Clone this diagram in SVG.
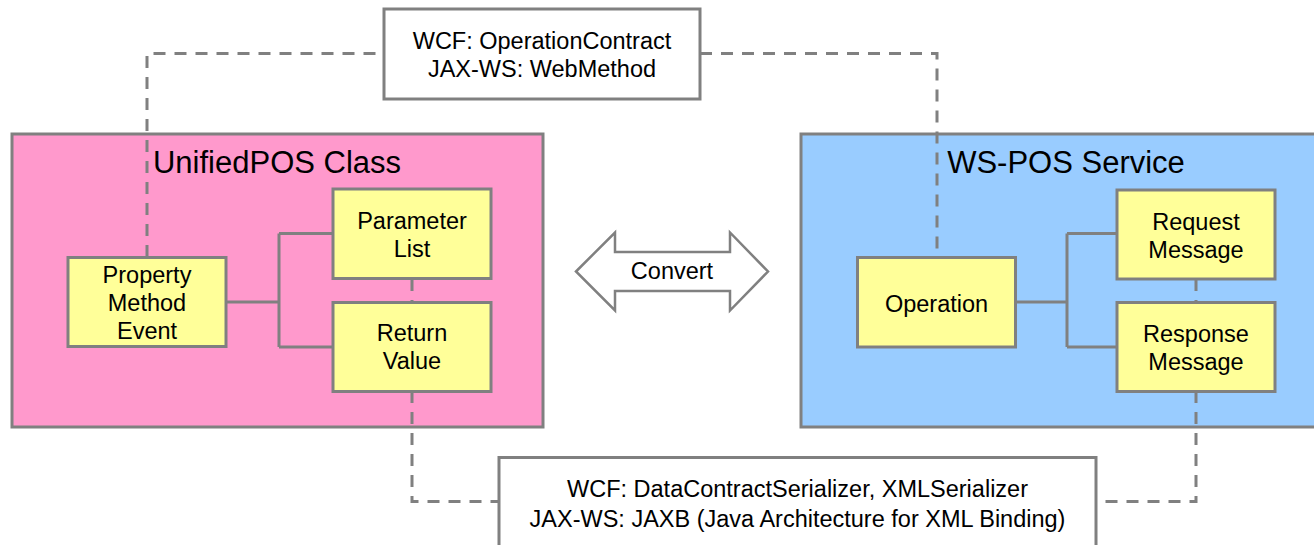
<svg xmlns="http://www.w3.org/2000/svg" width="1314" height="545" viewBox="0 0 1314 545">
<style>
.frame{stroke:#808080;stroke-width:3}
.item{fill:#FFFF99;stroke:#808080;stroke-width:3}
.note{fill:#FFFFFF;stroke:#808080;stroke-width:3}
.t{font-family:"Liberation Sans",Arial,sans-serif;font-size:23.5px;fill:#000;text-anchor:middle}
.title{font-family:"Liberation Sans",Arial,sans-serif;font-size:31px;fill:#000;text-anchor:middle}
.link{fill:none;stroke:#808080;stroke-width:3}
.dash{fill:none;stroke:#808080;stroke-width:3;stroke-dasharray:12 9}
</style>
<rect width="1314" height="545" fill="#FFFFFF"/>
<g id="unifiedpos-class">
<rect class="frame" x="12" y="134" width="531" height="293" fill="#FF99CC"/>
<text class="title" x="277" y="173">UnifiedPOS Class</text>
</g>
<g id="ws-pos-service">
<rect class="frame" x="801" y="134" width="531" height="293" fill="#99CCFF"/>
<text class="title" x="1066" y="173">WS-POS Service</text>
</g>
<g id="connectors">
<path class="link" d="M226,302 H279 M279,233.5 V347 M279,233.5 H333 M279,347 H333"/>
<path class="link" d="M1016,302 H1067 M1067,233.5 V347 M1067,233.5 H1117 M1067,347 H1117"/>
<path class="dash" d="M147,257 V53.5 H384"/>
<path class="dash" d="M700,53.5 H937 V257"/>
<path class="dash" d="M412,279 V302"/>
<path class="dash" d="M412,391 V501.5 H499"/>
<path class="dash" d="M1196,279 V302"/>
<path class="dash" d="M1196,391 V501.5 H1096"/>
</g>
<g id="property-method-event">
<rect class="item" x="68" y="257.5" width="158" height="89"/>
<text class="t" x="147" y="283">Property</text>
<text class="t" x="147" y="311">Method</text>
<text class="t" x="147" y="339">Event</text>
</g>
<g id="parameter-list">
<rect class="item" x="333" y="189" width="158" height="89.5"/>
<text class="t" x="412" y="229">Parameter</text>
<text class="t" x="412" y="257">List</text>
</g>
<g id="return-value">
<rect class="item" x="333" y="302.5" width="158" height="89"/>
<text class="t" x="412" y="341">Return</text>
<text class="t" x="412" y="369">Value</text>
</g>
<g id="operation">
<rect class="item" x="857.5" y="257.5" width="158" height="89.5"/>
<text class="t" x="936.5" y="312">Operation</text>
</g>
<g id="request-message">
<rect class="item" x="1117" y="190" width="158" height="89"/>
<text class="t" x="1196" y="230">Request</text>
<text class="t" x="1196" y="258">Message</text>
</g>
<g id="response-message">
<rect class="item" x="1117" y="302.5" width="158" height="89"/>
<text class="t" x="1196" y="342">Response</text>
<text class="t" x="1196" y="370">Message</text>
</g>
<g id="convert">
<polygon points="576,271.5 615,232.5 615,252 730,252 730,232.5 768,271.5 730,310.5 730,291 615,291 615,310.5" fill="#FFFFFF" stroke="#808080" stroke-width="2.5"/>
<text class="t" x="672" y="279">Convert</text>
</g>
<g id="operation-contract-note">
<rect class="note" x="384" y="9" width="316" height="90"/>
<text class="t" x="542" y="49">WCF: OperationContract</text>
<text class="t" x="542" y="77">JAX-WS: WebMethod</text>
</g>
<g id="serializer-note">
<rect class="note" x="499" y="457.5" width="597" height="100"/>
<text class="t" x="797.5" y="497">WCF: DataContractSerializer, XMLSerializer</text>
<text class="t" x="797.5" y="527">JAX-WS: JAXB (Java Architecture for XML Binding)</text>
</g>
</svg>
